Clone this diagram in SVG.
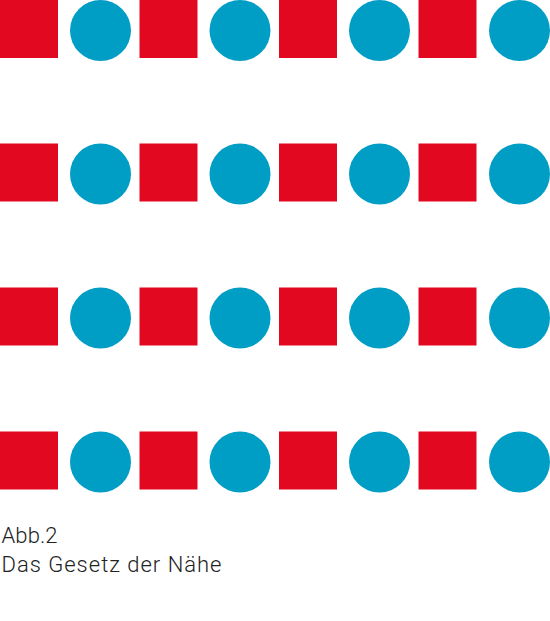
<svg xmlns="http://www.w3.org/2000/svg" width="550" height="621" viewBox="0 0 550 621">
<style>
.sq{fill:#e1081f}
.ci{fill:#009dc4}
.t{font-family:"Roboto","Liberation Sans",sans-serif;font-size:22px;font-weight:300;fill:#222}
</style>
<defs>
<g id="row">
<rect class="sq" x="0" y="0" width="58" height="58"/>
<circle class="ci" cx="100.5" cy="30.5" r="30.5"/>
<rect class="sq" x="139.5" y="0" width="58" height="58"/>
<circle class="ci" cx="240" cy="30.5" r="30.5"/>
<rect class="sq" x="279" y="0" width="58" height="58"/>
<circle class="ci" cx="379.5" cy="30.5" r="30.5"/>
<rect class="sq" x="418.5" y="0" width="58" height="58"/>
<circle class="ci" cx="519.5" cy="30.5" r="30.5"/>
</g>
</defs>
<g id="row1"><use href="#row"/></g>
<g id="row2"><use href="#row" y="143.5"/></g>
<g id="row3"><use href="#row" y="287.5"/></g>
<g id="row4"><use href="#row" y="431.5"/></g>
<g id="caption">
<text class="t" x="1.5" y="543" textLength="56" lengthAdjust="spacing">Abb.2</text>
<text class="t" x="1.5" y="572" textLength="220" lengthAdjust="spacing">Das Gesetz der Nähe</text>
</g>
</svg>
